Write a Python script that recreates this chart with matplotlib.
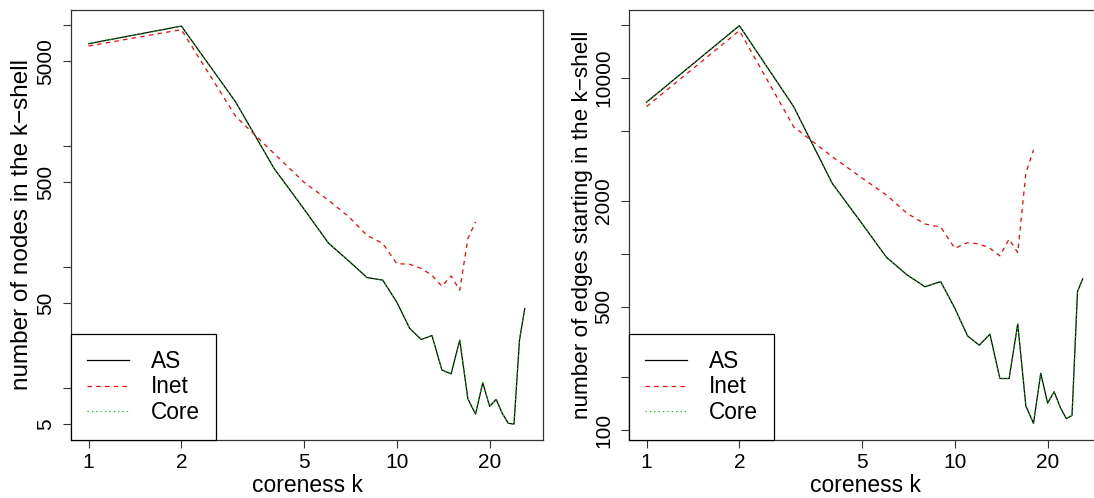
import matplotlib
matplotlib.use("Agg")

import matplotlib.pyplot as plt


# coreness k
k_as = list(range(1, 27))
k_inet = list(range(1, 19))

# number of nodes in each k-shell
as_nodes = [7000, 9790, 2306, 649, 300, 157, 111, 81.5, 77.5, 51, 31, 25, 27,
            14, 13, 24.7, 8.1, 6.05, 11, 7.0, 8, 6.1, 5.07, 5.0, 24.7, 45]
inet_nodes = [6700, 9150, 1755, 863, 500, 355, 258, 182, 156, 106, 105, 97,
              85, 69, 84, 64, 171, 235]
core_nodes = list(as_nodes)

# number of edges starting in each k-shell
as_edges = [7280, 19800, 6870, 2520, 1486, 957, 760, 651, 696, 491, 342, 303,
            350, 196, 196, 400, 137, 109, 210, 142, 165, 134, 116, 121, 611, 722]
inet_edges = [6870, 18560, 5280, 3570, 2700, 2160, 1700, 1480, 1420, 1077,
              1159, 1140, 1077, 975, 1214, 1017, 2870, 3900]
core_edges = list(as_edges)

x_ticks = [1, 2, 5, 10, 20]

nodes_ticks = [5, 10, 50, 100, 500, 1000, 5000, 10000]
nodes_labels = ["5", "", "50", "", "500", "", "5000", ""]

edges_ticks = [100, 200, 500, 1000, 2000, 5000, 10000, 20000]
edges_labels = ["100", "", "500", "", "2000", "", "10000", ""]

TICK_SIZE = 15
LABEL_SIZE = 16.5
LEGEND_SIZE = 16.3
W, H = 1094, 498

plt.rcParams["font.family"] = ["Liberation Sans", "DejaVu Sans"]


def style_axes(ax, yticks, ylabels, ylim, ylabel, ylabel_x, ylabel_size):
    ax.set_xscale("log")
    ax.set_yscale("log")
    ax.set_xlim(0.877, 29.8)
    ax.set_ylim(*ylim)

    ax.xaxis.set_minor_locator(matplotlib.ticker.NullLocator())
    ax.yaxis.set_minor_locator(matplotlib.ticker.NullLocator())
    ax.set_xticks(x_ticks)
    ax.set_xticklabels([str(v) for v in x_ticks], fontsize=TICK_SIZE)
    ax.set_yticks(yticks)
    ax.set_yticklabels(ylabels, fontsize=TICK_SIZE, rotation=90, va="center")

    ax.tick_params(direction="out", length=5.5, width=0.8, color="#333333")
    ax.tick_params(axis="x", pad=4)
    ax.tick_params(axis="y", pad=6)
    for sp in ax.spines.values():
        sp.set_linewidth(0.9)
        sp.set_color("#333333")

    ax.set_xlabel("coreness k", fontsize=LABEL_SIZE)
    ax.xaxis.set_label_coords(0.5, -0.078)
    ax.set_ylabel(ylabel, fontsize=ylabel_size)
    ax.yaxis.set_label_coords(ylabel_x, 0.5)


def draw_panel(ax, as_vals, inet_vals, core_vals):
    ax.plot(k_as, as_vals, color="black", lw=0.9, label="AS")
    ax.plot(k_inet, inet_vals, color="red", lw=0.9, dashes=(3.5, 3.5), label="Inet")
    ax.plot(k_as, core_vals, color="#00CD00", lw=0.9, dashes=(1, 2.5), label="Core")

    leg = ax.legend(
        loc="lower left",
        bbox_to_anchor=(0, 0),
        borderaxespad=0,
        fontsize=LEGEND_SIZE,
        frameon=True,
        fancybox=False,
        framealpha=1,
        edgecolor="black",
        handlelength=1.85,
        handletextpad=0.95,
        borderpad=0.72,
        labelspacing=0.1,
    )
    leg.get_frame().set_linewidth(0.9)


fig = plt.figure(figsize=(W / 100, H / 100), dpi=100)

ax1 = fig.add_axes([71 / W, 58 / H, 472 / W, 430 / H])
draw_panel(ax1, as_nodes, inet_nodes, core_nodes)
style_axes(ax1, nodes_ticks, nodes_labels, (3.69, 13300),
           "number of nodes in the k\u2212shell", -0.080, 17.5)

# right panel runs past the right edge of the figure, as in the original
ax2 = fig.add_axes([629 / W, 58 / H, 472 / W, 430 / H])
draw_panel(ax2, as_edges, inet_edges, core_edges)
style_axes(ax2, edges_ticks, edges_labels, (87.7, 24300),
           "number of edges starting in the k\u2212shell", -0.077, 16.2)

fig.savefig("out.png", dpi=100)
plt.close(fig)
